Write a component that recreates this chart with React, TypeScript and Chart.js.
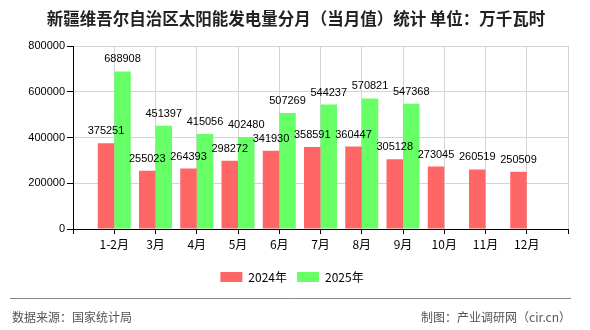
import React, { useEffect, useRef } from "react";
import { Chart, registerables } from "chart.js";

Chart.register(...registerables);

const TITLE = "新疆维吾尔自治区太阳能发电量分月（当月值）统计 单位：万千瓦时";
const SOURCE = "数据来源：国家统计局";
const CREDIT = "制图：产业调研网（cir.cn）";

const categories = ["1-2月", "3月", "4月", "5月", "6月", "7月", "8月", "9月", "10月", "11月", "12月"];
const series2024Name = "2024年";
const series2025Name = "2025年";
const values2024 = [375251, 255023, 264393, 298272, 341930, 358591, 360447, 305128, 273045, 260519, 250509];
const values2025 = [688908, 451397, 415056, 402480, 507269, 544237, 570821, 547368];
const yTicks = [0, 200000, 400000, 600000, 800000];

const NUM_FONT = "'Liberation Sans', 'Noto Sans CJK SC', sans-serif";
const CJK_FONT = "'Noto Sans CJK SC', 'Liberation Sans', sans-serif";

export default function App() {
  const ref = useRef<HTMLCanvasElement | null>(null);

  useEffect(() => {
    const canvas = ref.current;
    if (!canvas) return;

    // pad the category list with an empty slot at both ends (ticks sit on the values)
    const labels = ["", ...categories, ""];
    const pad = (arr: number[]) => {
      const out: (number | null)[] = [null];
      for (let i = 0; i < categories.length; i++) out.push(i < arr.length ? arr[i] : null);
      out.push(null);
      return out;
    };

    const decorPlugin = {
      id: "decor",
      afterLayout(chart: any) {
        if (chart.legend) {
          chart.legend.left += 8;
          chart.legend.right += 8;
        }
      },
      afterDraw(chart: any) {
        const ctx = chart.ctx;
        ctx.save();
        // title
        ctx.fillStyle = "#222";
        ctx.font = `bold 16.5px ${CJK_FONT}`;
        ctx.textAlign = "center";
        ctx.textBaseline = "middle";
        ctx.fillText(TITLE, 296, 19);
        // footer line
        ctx.strokeStyle = "#888";
        ctx.lineWidth = 1;
        ctx.beginPath();
        ctx.moveTo(10, 298.5);
        ctx.lineTo(571, 298.5);
        ctx.stroke();
        // footer texts
        ctx.fillStyle = "#555";
        ctx.font = `12px ${CJK_FONT}`;
        ctx.textAlign = "left";
        ctx.fillText(SOURCE, 12, 317);
        ctx.textAlign = "right";
        ctx.fillText(CREDIT, 571, 317);
        ctx.restore();
      },
      afterDatasetsDraw(chart: any) {
        const ctx = chart.ctx;
        ctx.save();
        ctx.fillStyle = "#000";
        ctx.font = `11px ${NUM_FONT}`;
        ctx.textAlign = "center";
        ctx.textBaseline = "middle";
        chart.data.datasets.forEach((ds: any, di: number) => {
          const meta = chart.getDatasetMeta(di);
          meta.data.forEach((el: any, i: number) => {
            const v = ds.data[i];
            if (v === null || v === undefined) return;
            ctx.fillText(String(v), el.x, el.y - 12);
          });
        });
        ctx.restore();
      },
    };

    const chart = new Chart(canvas, {
      type: "bar",
      data: {
        labels,
        datasets: [
          {
            label: series2024Name,
            data: pad(values2024),
            backgroundColor: "#FF6666",
            categoryPercentage: 0.8,
            barPercentage: 1.0,
          },
          {
            label: series2025Name,
            data: pad(values2025),
            backgroundColor: "#66FF66",
            categoryPercentage: 0.8,
            barPercentage: 1.0,
          },
        ],
      },
      options: {
        responsive: false,
        animation: false,
        layout: { padding: { left: 0, right: 22, top: 46, bottom: 37 } },
        plugins: {
          title: { display: false },
          tooltip: { enabled: false },
          legend: {
            display: true,
            position: "bottom",
            labels: {
              boxWidth: 22,
              boxHeight: 10,
              padding: 10,
              color: "#000",
              font: { size: 12, family: CJK_FONT },
            },
          },
        },
        scales: {
          x: {
            type: "category",
            offset: false,
            grid: {
              offset: false,
              color: "#d4d4d4",
              tickColor: "#000",
              tickLength: 5,
              drawTicks: true,
            },
            border: { color: "#000", width: 1 },
            ticks: {
              autoSkip: false,
              maxRotation: 0,
              minRotation: 0,
              color: "#000",
              padding: 3,
              font: { size: 12, family: CJK_FONT },
            },
            afterFit: (scale: any) => {
              scale.height = 32;
            },
          },
          y: {
            min: 0,
            max: 800000,
            afterBuildTicks: (scale: any) => {
              scale.ticks = yTicks.map((v) => ({ value: v }));
            },
            grid: {
              color: "#d4d4d4",
              tickColor: "#000",
              tickLength: 6,
              drawTicks: true,
            },
            border: { color: "#000", width: 1 },
            ticks: {
              color: "#000",
              padding: 2,
              font: { size: 11, family: NUM_FONT },
              callback: (v: any) => String(v),
            },
            afterFit: (scale: any) => {
              scale.width = 73;
            },
          },
        },
      },
      plugins: [decorPlugin],
    } as any);

    return () => {
      chart.destroy();
    };
  }, []);

  return (
    <div style={{ position: "absolute", left: 0, top: 0, width: 590, height: 330, background: "#fff" }}>
      <canvas ref={ref} width={590} height={330} style={{ width: 590, height: 330, display: "block" }} />
    </div>
  );
}
